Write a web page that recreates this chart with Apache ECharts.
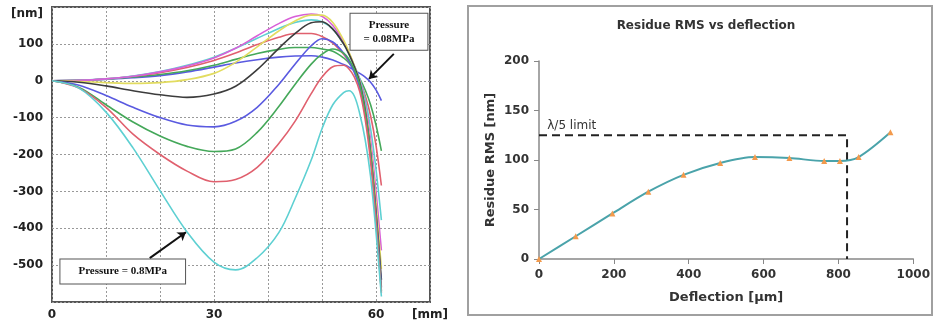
<!DOCTYPE html>
<html><head><meta charset="utf-8">
<script src="https://cdn.jsdelivr.net/npm/echarts@6/dist/echarts.min.js"></script>
<style>html,body{margin:0;padding:0;background:#fff}#c{width:933px;height:321px}</style>
</head><body><div id="c"></div>
<script>
// ---------- Left panel: surface profiles ----------
const posMm = [0, 5, 10, 15, 20, 25, 30, 34, 38, 42, 45, 48, 50, 52, 54, 55, 56, 57, 58, 59, 60, 61];
const curve1  = [0, 1, 4, 8, 14, 24, 37, 48, 57, 64, 67, 68, 64, 56, 44, 37, 28, 20, 10, -4, -25, -54];
const curve2  = [0, 1, 4, 10, 17, 27, 42, 58, 74, 85, 90, 90, 86, 80, 62, 48, 28, 5, -25, -65, -120, -190];
const curve3  = [0, 1, 5, 12, 22, 36, 55, 75, 98, 118, 128, 128, 120, 102, 72, 52, 28, 0, -40, -95, -175, -284];
const curve4  = [0, 1, 5, 13, 25, 42, 64, 88, 115, 142, 158, 165, 160, 140, 100, 72, 40, 5, -50, -130, -240, -378];
const curve5  = [0, 1, 5, 12, 24, 40, 62, 88, 122, 155, 174, 181, 175, 150, 105, 75, 40, 0, -65, -160, -300, -460];
const curve6  = [0, -2, -5, -7, -5, 3, 20, 50, 92, 135, 162, 178, 178, 158, 110, 78, 40, -5, -75, -180, -330, -510];
const curve7  = [0, -4, -14, -27, -38, -45, -36, -15, 30, 88, 128, 157, 160, 140, 100, 72, 38, -5, -80, -195, -355, -540];
const curve8  = [0, -12, -40, -72, -100, -120, -125, -110, -72, -10, 45, 95, 114, 105, 75, 52, 22, -20, -90, -200, -365, -560];
const curve9  = [0, -18, -65, -112, -150, -178, -192, -185, -140, -70, -10, 45, 72, 86, 75, 58, 30, -10, -85, -200, -375, -570];
const curve10 = [0, -20, -72, -145, -200, -245, -274, -268, -235, -170, -110, -35, 10, 38, 42, 32, 10, -30, -105, -220, -385, -575];
const curve11 = [0, -20, -85, -182, -298, -410, -492, -513, -480, -412, -320, -215, -130, -65, -32, -27, -42, -90, -160, -260, -410, -585];
const curveColors = ['#5a5ae0', '#45a85a', '#e0606e', '#5ed0d2', '#d860d8', '#e2dc60', '#3c3c3c',
                     '#5a5ae0', '#45a85a', '#e0606e', '#5ed0d2'];
const leftXTicks = {0: '0', 30: '30', 60: '60', 70: '[mm]'};

// ---------- Right panel: residue RMS ----------
const deflection = [0, 98, 196, 292, 386, 484, 577, 669, 762, 804, 854, 939];
const residueRms = [0, 23, 46, 68, 85, 97, 103, 102, 99, 99, 103, 128];
const limitX = [0, 823, 823];
const limitY = [125, 125, 0];

const curves = [curve1, curve2, curve3, curve4, curve5, curve6, curve7, curve8, curve9, curve10, curve11];
const pair = (xs, ys) => xs.map((x, i) => [x, ys[i]]);

const lblFont = {fontFamily: 'DejaVu Sans', fontWeight: 'bold', fontSize: 12, color: '#222'};
const boxLabel = {fontFamily: 'Liberation Serif', fontWeight: 'bold', fontSize: 11, color: '#111', lineHeight: 14,
  backgroundColor: '#fff', borderColor: '#555', borderWidth: 1};

const series = curves.map((c, i) => ({
  type: 'line', xAxisIndex: 0, yAxisIndex: 0, smooth: 0.35, showSymbol: false,
  data: pair(posMm, c), lineStyle: {color: curveColors[i], width: 1.6}, itemStyle: {color: curveColors[i]},
  z: 3
}));
series[0].markLine = {
  silent: true, symbol: ['none', 'arrow'], symbolSize: 8, label: {show: false},
  lineStyle: {color: '#111', width: 2, type: 'solid'},
  data: [[{coord: [63.3, 73]}, {coord: [58.7, 5]}]]
};
series[0].markPoint = {
  silent: true, symbol: 'circle', symbolSize: 0,
  data: [{coord: [62.4, 132.6],
    label: Object.assign({show: true, position: 'inside', formatter: 'Pressure\n= 0.08MPa', padding: [4, 13, 4, 13]}, boxLabel)}]
};
series[10].markLine = {
  silent: true, symbol: ['none', 'arrow'], symbolSize: 8, label: {show: false},
  lineStyle: {color: '#111', width: 2, type: 'solid'},
  data: [[{coord: [18.1, -481]}, {coord: [24.8, -411]}]]
};
series[10].markPoint = {
  silent: true, symbol: 'circle', symbolSize: 0,
  data: [{coord: [13.1, -517],
    label: Object.assign({show: true, position: 'inside', formatter: 'Pressure = 0.8MPa', padding: [5, 18, 5, 18]}, boxLabel)}]
};

series.push({
  type: 'line', xAxisIndex: 1, yAxisIndex: 1, showSymbol: false, silent: true,
  data: pair(limitX, limitY), lineStyle: {color: '#222', width: 2, type: [8, 5]},
  markPoint: {silent: true, symbol: 'circle', symbolSize: 0,
    data: [{coord: [22, 125]}],
    label: {show: true, position: 'top', align: 'left', distance: 3, formatter: 'λ/5 limit',
      fontFamily: 'DejaVu Sans', fontSize: 12, color: '#333'}}
});
series.push({
  type: 'line', xAxisIndex: 1, yAxisIndex: 1, smooth: 0.3, symbol: 'triangle', symbolSize: 6,
  data: pair(deflection, residueRms), lineStyle: {color: '#4aa3aa', width: 2},
  itemStyle: {color: '#f39a4c'}, z: 4
});

const chart = echarts.init(document.getElementById('c'), null, {renderer: 'canvas'});
chart.setOption({
  animation: false,
  backgroundColor: '#fff',
  grid: [
    {left: 52, top: 7, width: 378, height: 295, show: true, borderColor: '#555', borderWidth: 2, backgroundColor: 'transparent'},
    {left: 539, top: 61, width: 378, height: 198}
  ],
  xAxis: [
    {gridIndex: 0, type: 'value', min: 0, max: 70, interval: 10,
     axisLine: {show: false}, axisTick: {show: false},
     splitLine: {show: true, lineStyle: {color: '#999', type: [2, 2], width: 1}},
     axisLabel: Object.assign({margin: 7, showMaxLabel: true, formatter: v => leftXTicks[v] || ''}, lblFont)},
    {gridIndex: 1, type: 'value', min: 0, max: 1000, interval: 200,
     axisLine: {show: true, lineStyle: {color: '#888', width: 1.5}},
     axisTick: {show: true, length: 5, lineStyle: {color: '#888'}},
     splitLine: {show: false},
     axisLabel: Object.assign({margin: 10, formatter: v => String(v)}, lblFont, {color: '#333'}),
     name: 'Deflection [μm]', nameLocation: 'middle', nameGap: 32,
     nameTextStyle: {fontFamily: 'DejaVu Sans', fontWeight: 'bold', fontSize: 13, color: '#333'}}
  ],
  yAxis: [
    {gridIndex: 0, type: 'value', min: -600, max: 200, interval: 100,
     axisLine: {show: false}, axisTick: {show: false},
     splitLine: {show: true, lineStyle: {color: '#999', type: [2, 2], width: 1}},
     axisLabel: Object.assign({margin: 9, showMaxLabel: true,
       formatter: v => v === -600 ? '' : (v === 200 ? '{u|[nm]}' : String(v)),
       rich: {u: {padding: [14, 0, 0, 0], fontFamily: 'DejaVu Sans', fontWeight: 'bold', fontSize: 12, color: '#222'}}}, lblFont)},
    {gridIndex: 1, type: 'value', min: 0, max: 200, interval: 50,
     axisLine: {show: true, lineStyle: {color: '#888', width: 1.5}},
     axisTick: {show: true, length: 5, lineStyle: {color: '#888'}},
     splitLine: {show: false},
     axisLabel: Object.assign({margin: 10}, lblFont, {color: '#333'}),
     name: 'Residue RMS [nm]', nameLocation: 'middle', nameGap: 42, nameRotate: 90,
     nameTextStyle: {fontFamily: 'DejaVu Sans', fontWeight: 'bold', fontSize: 13, color: '#333'}}
  ],
  graphic: [
    {type: 'rect', shape: {x: 468, y: 6, width: 464, height: 309}, style: {fill: 'none', stroke: '#a0a0a0', lineWidth: 2}, z: -1},
    {type: 'text', x: 706, y: 26, style: {text: 'Residue RMS vs deflection', fontFamily: 'DejaVu Sans', fontWeight: 'bold', fontSize: 12, fill: '#333', align: 'center', verticalAlign: 'middle'}}
  ],
  series: series
});
</script>
</body></html>
